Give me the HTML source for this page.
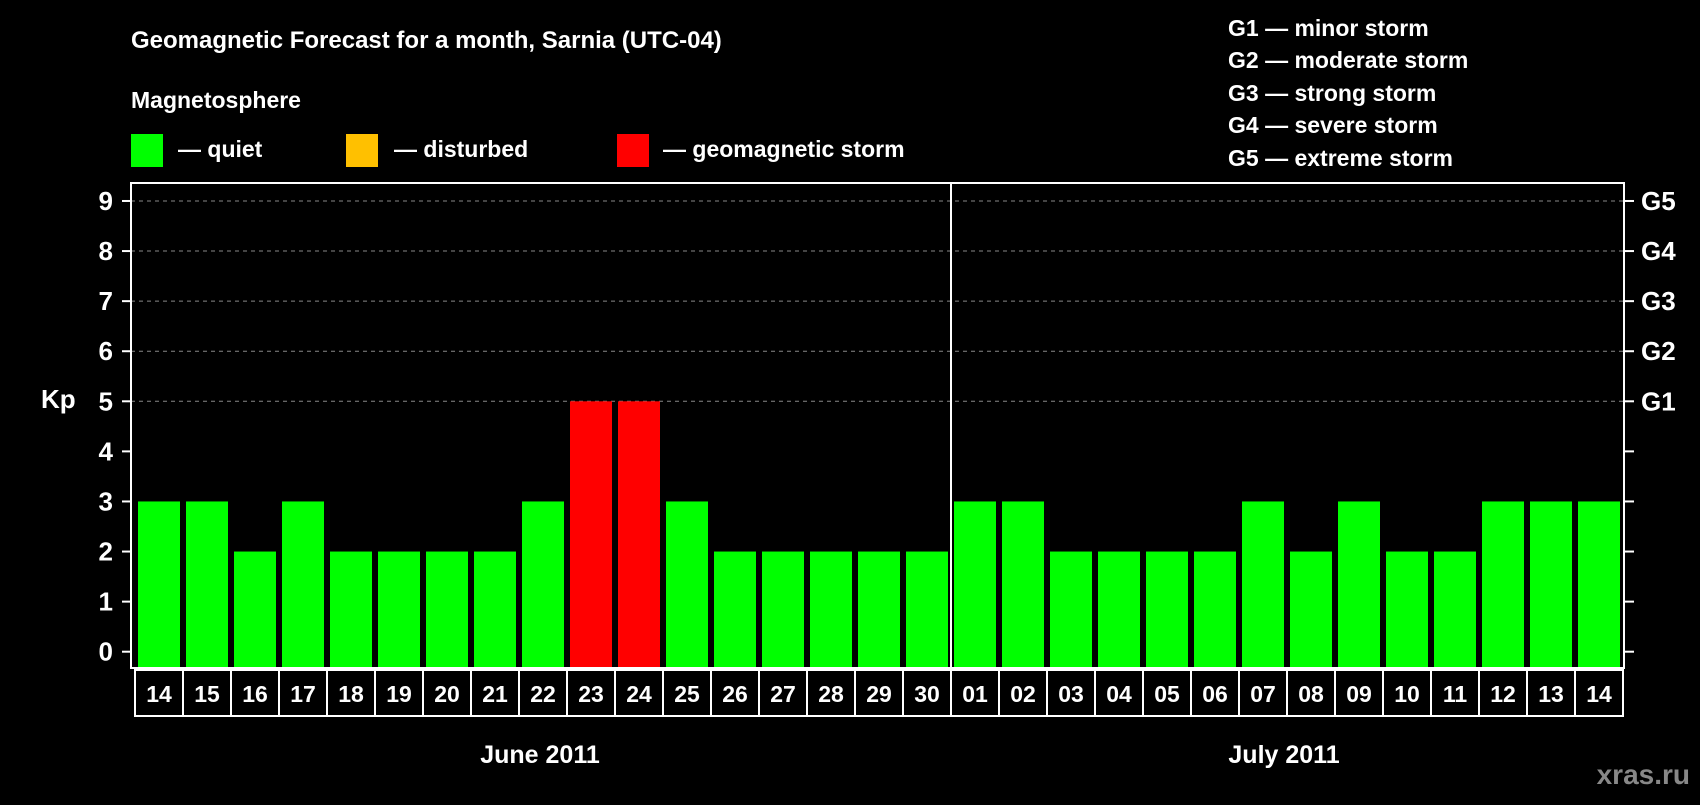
<!DOCTYPE html>
<html><head><meta charset="utf-8"><style>
body{margin:0;background:#000;width:1700px;height:800px;overflow:hidden}
svg text{font-family:"Liberation Sans",Arial,sans-serif;font-weight:bold;fill:#fff}
</style></head><body>
<svg id="chart" width="1700" height="800" xmlns="http://www.w3.org/2000/svg">
<rect width="1700" height="800" fill="#000"/>
<text x="131" y="48" font-size="24">Geomagnetic Forecast for a month, Sarnia (UTC-04)</text>
<text x="131" y="108" font-size="23">Magnetosphere</text>
<rect x="131" y="134" width="32" height="33" fill="#00ff00"/>
<text x="178" y="157" font-size="23">— quiet</text>
<rect x="346" y="134" width="32" height="33" fill="#ffc000"/>
<text x="394" y="157" font-size="23">— disturbed</text>
<rect x="617" y="134" width="32" height="33" fill="#ff0000"/>
<text x="663" y="157" font-size="23">— geomagnetic storm</text>
<g font-size="23">
<text x="1228" y="36">G1 — minor storm</text>
<text x="1228" y="68">G2 — moderate storm</text>
<text x="1228" y="101">G3 — strong storm</text>
<text x="1228" y="133">G4 — severe storm</text>
<text x="1228" y="166">G5 — extreme storm</text>
</g>
<g id="grid"></g><g id="bars"></g><g id="axes"></g>
<text x="41" y="408" font-size="26">Kp</text>
<text x="540" y="763" font-size="25" text-anchor="middle">June 2011</text>
<text x="1284" y="763" font-size="25" text-anchor="middle">July 2011</text>
<text x="1690" y="784" font-size="28" text-anchor="end" style="fill:#888">xras.ru</text>
</svg>
<script>
const days=["14","15","16","17","18","19","20","21","22","23","24","25","26","27","28","29","30","01","02","03","04","05","06","07","08","09","10","11","12","13","14"];
const kp=[3,3,2,3,2,2,2,2,3,5,5,3,2,2,2,2,2,3,3,2,2,2,2,3,2,3,2,2,3,3,3];
const yTicks=[0,1,2,3,4,5,6,7,8,9];
const gLabels=["G1","G2","G3","G4","G5"];
const gLevels=[5,6,7,8,9];
const NS="http://www.w3.org/2000/svg";
const L=131,R=1624,T=183,B=668,Y0=651.7,U=50.08,BX=138,P=48,BW=42;
const y=v=>Y0-v*U, x=i=>BX+i*P;
function mk(t,a,p){const e=document.createElementNS(NS,t);for(const k in a)e.setAttribute(k,a[k]);p.appendChild(e);return e;}
const grid=document.getElementById('grid'),bars=document.getElementById('bars'),axes=document.getElementById('axes');
gLevels.forEach(v=>{const l=mk('line',{x1:L,x2:R,y1:y(v),y2:y(v),stroke:'#888','stroke-dasharray':'4,4','stroke-width':1},grid);

});
kp.forEach((v,i)=>{const c=v>=5?'#ff0000':(v>=4?'#ffc000':'#00ff00');
const r=mk('rect',{x:x(i),y:y(v),width:BW,height:B-y(v),fill:c},bars);


const bx=mk('rect',{x:135+i*P,y:670,width:P,height:46,fill:'none',stroke:'#fff','stroke-width':2},axes);


const t=mk('text',{x:135+i*P+P/2,y:702,'font-size':23,'text-anchor':'middle'},axes);t.textContent=days[i];

});
const fr=mk('rect',{x:L,y:T,width:R-L,height:B-T,fill:'none',stroke:'#fff','stroke-width':2},axes);


const dv=mk('line',{x1:x(17)-3,x2:x(17)-3,y1:T,y2:B,stroke:'#fff','stroke-width':2},axes);


yTicks.forEach(v=>{mk('line',{x1:L-9,x2:L,y1:y(v),y2:y(v),stroke:'#fff','stroke-width':2},axes);
mk('line',{x1:R,x2:R+10,y1:y(v),y2:y(v),stroke:'#fff','stroke-width':2},axes);
const t=mk('text',{x:113,y:y(v)+9,'font-size':26,'text-anchor':'end'},axes);t.textContent=v;

});
gLabels.forEach((g,i)=>{const t=mk('text',{x:1641,y:y(gLevels[i])+9,'font-size':26},axes);t.textContent=g;

});
</script>
</body></html>
